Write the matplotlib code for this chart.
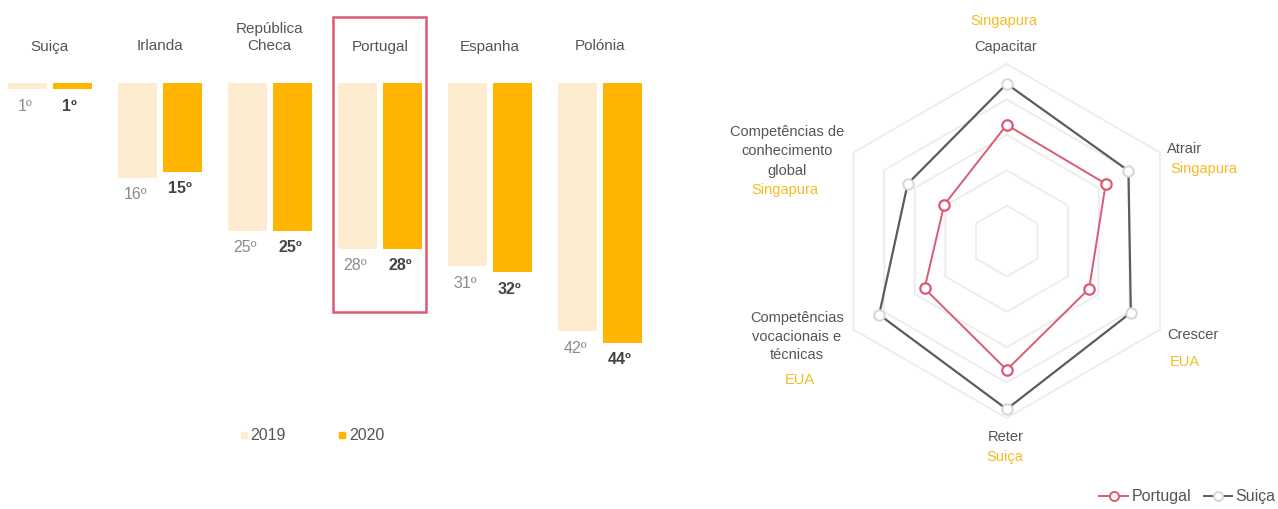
import matplotlib
matplotlib.use("Agg")
import matplotlib.pyplot as plt
from matplotlib.lines import Line2D
from matplotlib.patches import Rectangle
import numpy as np

plt.rcParams['font.family'] = ['Liberation Sans', 'DejaVu Sans']

# ---- data -------------------------------------------------------------
countries = ["Suiça", "Irlanda", "República\nCheca", "Portugal", "Espanha", "Polónia"]
rank_2019 = [1, 16, 25, 28, 31, 42]
rank_2020 = [1, 15, 25, 28, 32, 44]
years = ["2019", "2020"]
highlight = "Portugal"

pillars = ["Capacitar", "Atrair", "Crescer", "Reter",
           "Competências\nvocacionais e\ntécnicas",
           "Competências de\nconhecimento\nglobal"]
leaders = ["Singapura", "Singapura", "EUA", "Suiça", "EUA", "Singapura"]
score_portugal = [3.28, 3.23, 2.69, 3.64, 2.68, 2.04]
score_suica = [4.44, 3.97, 4.05, 4.75, 4.16, 3.23]
grid_levels = [1, 2, 3, 4, 5]

# ---- style ------------------------------------------------------------
C2019 = "#fdecd0"
C2020 = "#ffb400"
GOLD = "#f5bb22"
TXT = "#555555"
RED = "#d95b75"
GREY_LINE = "#5c5c5c"

W, H = 1278, 509
fig = plt.figure(figsize=(W / 100, H / 100), dpi=100)
fig.patch.set_facecolor("white")


def fx(px):
    return px / W


def fy(py):
    return 1 - py / H


# ---- ranking bars -----------------------------------------------------
GROUP_PX = 110.0     # pixels between country groups
RANK_PX = 5.9        # pixels per ranking position
X0_PX = 49.75        # centre of first group
TOP_PX = 83.3        # baseline (rank 0)
AX_W_PX = 660

ax = fig.add_axes([0, 0, AX_W_PX / W, 1])
ax.set_xlim(-X0_PX / GROUP_PX, (AX_W_PX - X0_PX) / GROUP_PX)
ax.set_ylim((H - TOP_PX) / RANK_PX, -TOP_PX / RANK_PX)
ax.axis("off")

x = np.arange(len(countries))
off = 0.2023
bw = 0.3545
ax.bar(x - off, rank_2019, width=bw, color=C2019, label=years[0])
ax.bar(x + off, rank_2020, width=bw, color=C2020, label=years[1])

for xi, v in zip(x, rank_2019):
    ax.annotate(f"{v}º", (xi - off, v), xytext=(-1.5, -12.2),
                textcoords="offset points", ha="center", va="center",
                fontsize=11.5, color="#8c8c8c")
for xi, v in zip(x, rank_2020):
    ax.annotate(f"{v}º", (xi + off, v), xytext=(-1.5, -12.2),
                textcoords="offset points", ha="center", va="center",
                fontsize=11.5, color="#444444", fontweight="bold")

label_y = (53.5 - TOP_PX) / RANK_PX
for xi, name in zip(x, countries):
    ax.text(xi, label_y, name, ha="center", va="bottom", fontsize=11,
            color=TXT, linespacing=1.3)

# frame around the highlighted country
hi = countries.index(highlight)
box_top = (17 - TOP_PX) / RANK_PX
box_bot = rank_2020[hi] + 10.7
ax.add_patch(Rectangle((hi - 0.422, box_top), 0.844, box_bot - box_top,
                       fill=False, edgecolor=RED, lw=1.8, zorder=5))

bar_handles = [Line2D([], [], marker="s", linestyle="none", markersize=4.5,
                      color=c) for c in (C2019, C2020)]
fig.legend(bar_handles, years, loc="center", bbox_to_anchor=(fx(312), fy(436)),
           ncol=2, frameon=False, fontsize=11.5, handlelength=0.5,
           handletextpad=0.15, columnspacing=3.3, labelcolor=TXT)

# ---- radar ------------------------------------------------------------
CX, CY = 1006.7, 241.0
UNIT_PX = 35.4
HALF = 181.0
rx = fig.add_axes([fx(CX - HALF), fy(CY + HALF), 2 * HALF / W, 2 * HALF / H])
lim = HALF / UNIT_PX
rx.set_xlim(-lim, lim)
rx.set_ylim(-lim, lim)
rx.axis("off")

angles = np.deg2rad([90, 30, -30, -90, -150, 150])


def to_xy(vals):
    vals = np.asarray(vals, dtype=float)
    xs = np.cos(angles) * vals
    ys = np.sin(angles) * vals
    return np.append(xs, xs[0]), np.append(ys, ys[0])


for lvl in grid_levels:
    gx, gy = to_xy([lvl] * len(pillars))
    rx.plot(gx, gy, color="#ececec", lw=1.3, zorder=1, clip_on=False)

sx, sy = to_xy(score_suica)
rx.plot(sx, sy, color=GREY_LINE, lw=1.6, zorder=3, clip_on=False)
rx.plot(sx[:-1], sy[:-1], linestyle="none", marker="o", ms=7.5, mfc="white",
        mec="#d6d6d6", mew=1.4, zorder=4, clip_on=False)

px_, py_ = to_xy(score_portugal)
rx.plot(px_, py_, color=RED, lw=1.4, zorder=3, clip_on=False)
rx.plot(px_[:-1], py_[:-1], linestyle="none", marker="o", ms=7.5, mfc="white",
        mec=RED, mew=1.6, zorder=4, clip_on=False)

FS = 10.5
# pillar names and leading country, placed around the web
fig.text(fx(1004), fy(21), leaders[0], ha="center", va="center", fontsize=FS, color=GOLD)
fig.text(fx(1006), fy(46.5), pillars[0], ha="center", va="center", fontsize=FS, color=TXT)

fig.text(fx(1166.5), fy(149), pillars[1], ha="left", va="center", fontsize=FS, color=TXT)
fig.text(fx(1170), fy(169.5), leaders[1], ha="left", va="center", fontsize=FS, color=GOLD)

fig.text(fx(1167.5), fy(335), pillars[2], ha="left", va="center", fontsize=FS, color=TXT)
fig.text(fx(1170), fy(361.7), leaders[2], ha="left", va="center", fontsize=FS, color=GOLD)

fig.text(fx(1006), fy(437), pillars[3], ha="center", va="center", fontsize=FS, color=TXT)
fig.text(fx(1005), fy(457.5), leaders[3], ha="center", va="center", fontsize=FS, color=GOLD)

for i, line in enumerate(pillars[4].split("\n")):
    fig.text(fx(796.7), fy(318.3 + 18.4 * i), line, ha="center", va="center",
             fontsize=FS, color=TXT)
fig.text(fx(800), fy(380), leaders[4], ha="center", va="center", fontsize=FS, color=GOLD)

for i, line in enumerate(pillars[5].split("\n")):
    fig.text(fx(786.7), fy(131.7 + 19.6 * i), line, ha="center", va="center",
             fontsize=FS, color=TXT)
fig.text(fx(785), fy(190), leaders[5], ha="center", va="center", fontsize=FS, color=GOLD)

radar_handles = [
    Line2D([], [], color=RED, lw=1.4, marker="o", ms=6.5, mfc="white", mec=RED, mew=1.4),
    Line2D([], [], color=GREY_LINE, lw=1.4, marker="o", ms=6.5, mfc="white",
           mec="#d6d6d6", mew=1.4),
]
fig.legend(radar_handles, ["Portugal", "Suiça"], loc="center right",
           bbox_to_anchor=(fx(1290), fy(497)), ncol=2, frameon=False,
           fontsize=11.5, handlelength=1.8, handletextpad=0.2,
           columnspacing=0.8, labelcolor=TXT)

fig.savefig("out.png", dpi=100, facecolor="white")
